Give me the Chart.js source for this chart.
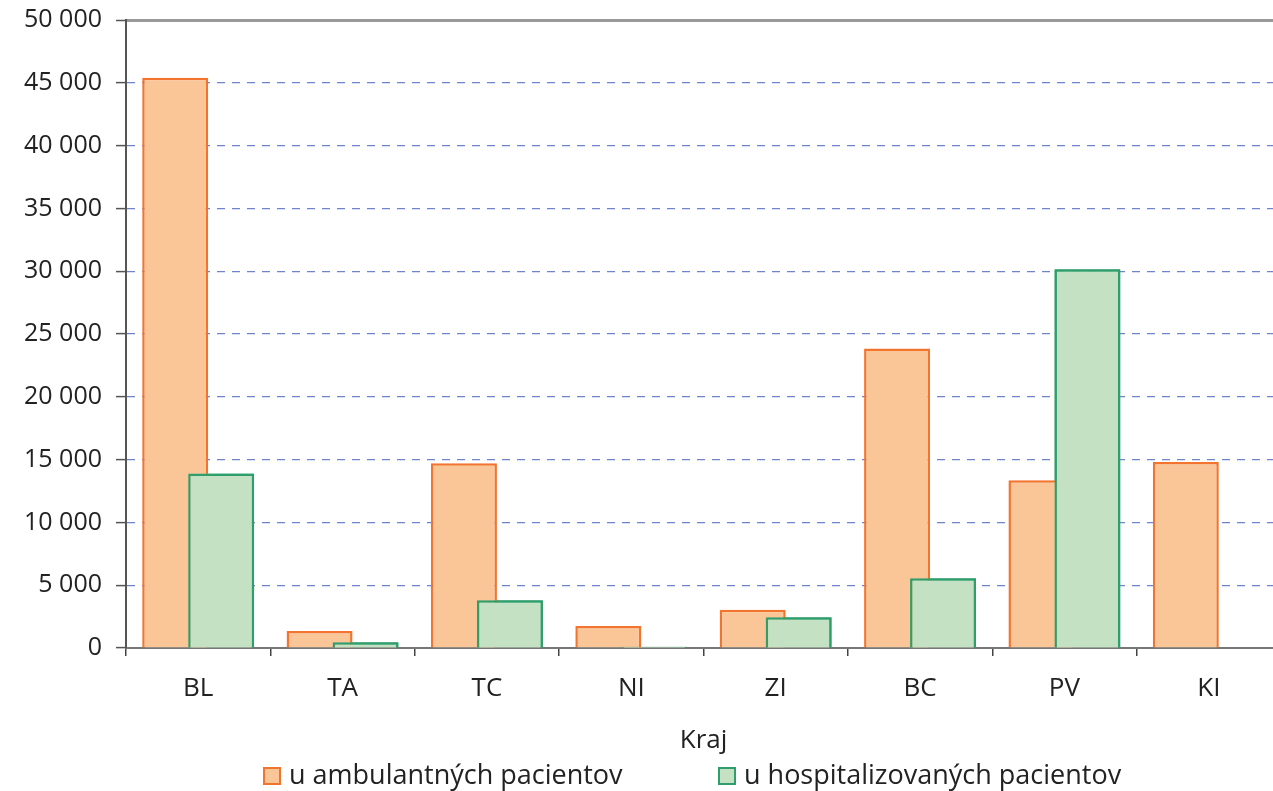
<!DOCTYPE html>
<html>
<head>
<meta charset="utf-8">
<script src="https://cdn.jsdelivr.net/npm/chart.js@4"></script>
<style>
  html, body { margin: 0; padding: 0; overflow: hidden; background: #fff; }
  #wrap { position: relative; width: 1273px; height: 791px; overflow: hidden; }
  #chart { position: absolute; left: 0; top: 0; }
  .legend { position: absolute; top: 756px; font-family: "Open Sans", sans-serif; font-size: 27px; line-height: 36px; color: #222; white-space: nowrap; }
  .legend span.box { display: inline-block; width: 14px; height: 14px; border: 2px solid; vertical-align: -1px; margin-right: 8px; }
</style>
</head>
<body>
<div id="wrap">
  <canvas id="chart" width="1384" height="791" style="width:1384px;height:791px"></canvas>
  <div class="legend" id="leg1" style="left:263px"></div>
  <div class="legend" id="leg2" style="left:718px"></div>
</div>
<script>
const kraje = ["BL", "TA", "TC", "NI", "ZI", "BC", "PV", "KI"];
const ambulantni = [45400, 1350, 14700, 1750, 3050, 23850, 13350, 14800];
const hospitalizovani = [13900, 450, 3800, 100, 2450, 5550, 30150, 0];
const seriesNames = ["u ambulantných pacientov", "u hospitalizovaných pacientov"];
const fillColors = ["#fbc697", "#c4e2c3"];
const lineColors = ["#f2742f", "#2f9e6d"];

const font = "'Open Sans', sans-serif";

function formatNumber(v) {
    return String(v).replace(/\B(?=(\d{3})+(?!\d))/g, " ");
}

// legend as plain html, the chart.js one can't do the wide gap
function fillLegend(id, i) {
    const el = document.getElementById(id);
    const box = document.createElement("span");
    box.className = "box";
    box.style.background = fillColors[i];
    box.style.borderColor = lineColors[i];
    el.appendChild(box);
    el.appendChild(document.createTextNode(seriesNames[i]));
}
fillLegend("leg1", 0);
fillLegend("leg2", 1);

// chart.js paints dataset 0 last, here the green bars must lie over the orange ones
const greenOnTop = {
    id: "greenOnTop",
    afterDatasetsDraw(chart) {
        const meta = chart.getDatasetMeta(1);
        const area = chart.chartArea;
        chart.ctx.save();
        chart.ctx.beginPath();
        chart.ctx.rect(area.left, area.top - 2, area.right - area.left, area.bottom - area.top + 2);
        chart.ctx.clip();
        meta.controller.draw();
        chart.ctx.restore();
    }
};

const ctx = document.getElementById("chart");
new Chart(ctx, {
    type: "bar",
    data: {
        labels: kraje,
        datasets: [
            {
                label: seriesNames[0],
                data: ambulantni,
                backgroundColor: fillColors[0],
                borderColor: lineColors[0],
                borderWidth: 2.5,
                categoryPercentage: 0.637,
                barPercentage: 1.435
            },
            {
                label: seriesNames[1],
                data: hospitalizovani,
                backgroundColor: fillColors[1],
                borderColor: lineColors[1],
                borderWidth: 2.5,
                categoryPercentage: 0.637,
                barPercentage: 1.435
            }
        ]
    },
    plugins: [greenOnTop],
    options: {
        responsive: false,
        animation: false,
        layout: { padding: { left: 0, right: 103, top: 20, bottom: 33 } },
        plugins: {
            legend: { display: false },
            tooltip: { enabled: false }
        },
        scales: {
            x: {
                grid: {
                    offset: true,
                    drawOnChartArea: false,
                    drawTicks: true,
                    tickLength: 8,
                    color: "#444",
                    lineWidth: 1.5
                },
                border: { color: "#777", width: 2 },
                ticks: { color: "#222", font: { family: font, size: 26 }, padding: 17 },
                title: {
                    display: true,
                    text: "Kraj",
                    color: "#222",
                    font: { family: font, size: 26 },
                    padding: { top: 0, bottom: 2 }
                },
                afterFit: (scale) => {
                    scale.height = 110;
                    scale.paddingLeft = 0;
                    scale.paddingRight = 0;
                }
            },
            y: {
                min: 0,
                max: 50000,
                ticks: {
                    stepSize: 5000,
                    color: "#222",
                    font: { family: font, size: 25 },
                    padding: 14,
                    callback: (v) => formatNumber(v)
                },
                grid: {
                    tickLength: 10,
                    color: (c) => (c.tick && c.tick.value === 50000) ? "#999" : "#6f84cc",
                    lineWidth: (c) => (c.tick && c.tick.value === 50000) ? 3 : 1.2,
                    tickColor: "#555",
                    tickWidth: 1.5
                },
                border: {
                    color: "#555",
                    width: 2,
                    dash: (c) => (c.tick && c.tick.value === 50000) ? [] : [8, 7]
                },
                afterFit: (scale) => {
                    scale.width = 126;
                    scale.paddingTop = 0;
                    scale.paddingBottom = 0;
                }
            }
        }
    }
});
</script>
</body>
</html>
